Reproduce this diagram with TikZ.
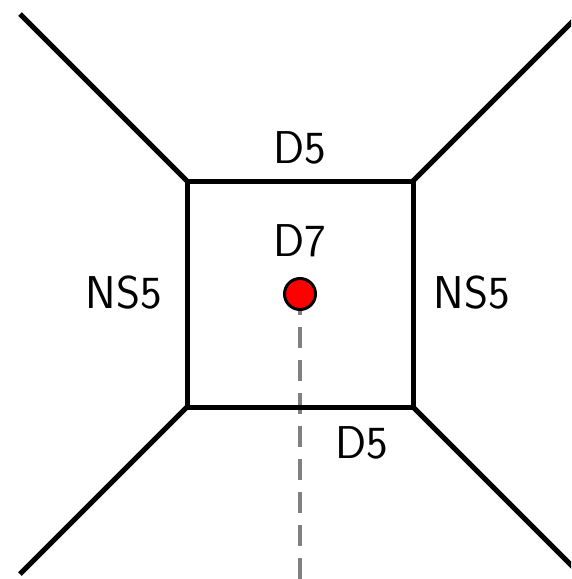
\documentclass[tikz,border=0pt]{standalone}
\begin{document}
\begin{tikzpicture}[x=1pt,y=-1pt,
  brane/.style={line width=5pt, line cap=butt, line join=miter},
  lbl/.style={font=\fontsize{46}{54}\selectfont\sffamily, inner sep=0pt, anchor=base},
  flux/.style={line width=4pt, draw={rgb,255:red,128;green,128;blue,128}, dash pattern=on 21pt off 12pt}]
\useasboundingbox (0,0) rectangle (571,579);
\begin{scope}
\clip (0,0) rectangle (571,579);
\coordinate (a) at (187,181);
\coordinate (b) at (413,181);
\coordinate (c) at (413,407);
\coordinate (d) at (187,407);
\coordinate (ea) at (20,14);
\coordinate (eb) at (580,14);
\coordinate (ec) at (580,574);
\coordinate (ed) at (20,574);
\coordinate (dot) at (300,294);
\coordinate (bot) at (300,585);
\draw[flux] (dot) -- (bot);
\draw[brane] (a) -- (b) -- (c) -- (d) -- cycle;
\draw[brane] (a) -- (ea);
\draw[brane] (b) -- (eb);
\draw[brane] (c) -- (ec);
\draw[brane] (d) -- (ed);
\node[circle, minimum size=31pt, inner sep=0pt, fill=red, draw=black, line width=3pt] (d7) at (dot) {};
\end{scope}
\node[lbl] (t1) at (300,163) {D5};
\node[lbl] (t2) at (300,256) {D7};
\node[lbl] (t3) at (124,308) {NS5};
\node[lbl] (t4) at (472,308) {NS5};
\node[lbl] (t5) at (362,458) {D5};
\end{tikzpicture}
\end{document}
